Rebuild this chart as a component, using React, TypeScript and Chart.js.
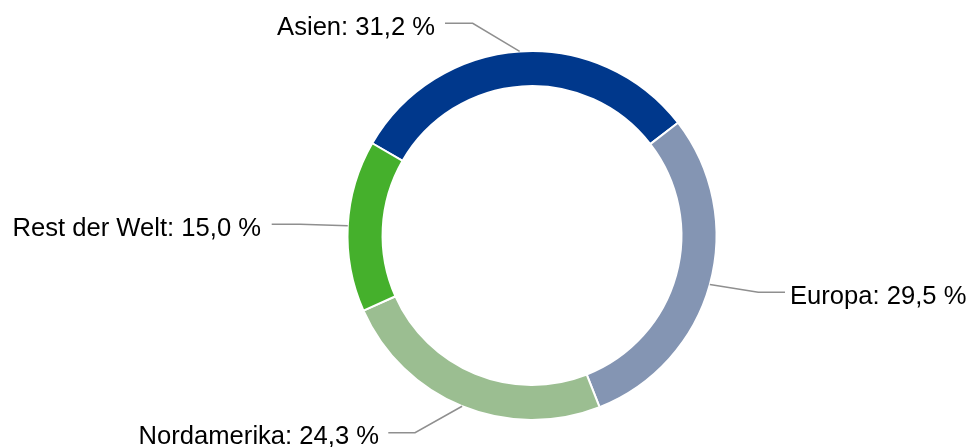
import React, { useEffect, useRef } from "react";
import { Chart, registerables } from "chart.js";

Chart.register(...registerables);

const categories = ["Asien", "Europa", "Nordamerika", "Rest der Welt"];
const shares = [31.2, 29.5, 24.3, 15.0];
const valueLabels = ["31,2 %", "29,5 %", "24,3 %", "15,0 %"];
const colors = ["#00388c", "#8495b3", "#9bbe91", "#45b02c"];

// label layout relative to the chart centre: elbow (ex, ey), line end (lx), text x and baseline
const labelLayout = [
  { ex: -59.3, ey: -212.2, lx: -87, tx: -97, align: "right", base: -200.5 },
  { ex: 226.3, ey: 56.8, lx: 253, tx: 258, align: "left", base: 68.5 },
  { ex: -117, ey: 197.2, lx: -143.7, tx: -153, align: "right", base: 208.5 },
  { ex: -232, ey: -11.2, lx: -260.3, tx: -271, align: "right", base: 0.5 },
];

const labelPlugin = {
  id: "leaderLabels",
  afterDatasetsDraw(chart: any) {
    const ctx = chart.ctx;
    const meta = chart.getDatasetMeta(0);
    ctx.save();
    meta.data.forEach((arc: any, i: number) => {
      const { x, y, startAngle, endAngle, outerRadius } = arc.getProps(
        ["x", "y", "startAngle", "endAngle", "outerRadius"],
        true
      );
      const mid = (startAngle + endAngle) / 2;
      const sx = x + Math.cos(mid) * outerRadius;
      const sy = y + Math.sin(mid) * outerRadius;
      const L = labelLayout[i];
      ctx.beginPath();
      ctx.strokeStyle = "#8f8f8f";
      ctx.lineWidth = 1.5;
      ctx.moveTo(sx, sy);
      ctx.lineTo(x + L.ex, y + L.ey);
      ctx.lineTo(x + L.lx, y + L.ey);
      ctx.stroke();
      ctx.fillStyle = "#000000";
      ctx.font = "25.6px 'Liberation Sans', Arial, sans-serif";
      ctx.textAlign = L.align;
      ctx.textBaseline = "alphabetic";
      ctx.fillText(`${categories[i]}: ${valueLabels[i]}`, x + L.tx, y + L.base);
    });
    ctx.restore();
  },
};

export default function App() {
  const ref = useRef<HTMLCanvasElement>(null);
  useEffect(() => {
    if (!ref.current) return;
    const chart = new Chart(ref.current, {
      type: "doughnut",
      data: {
        labels: categories,
        datasets: [
          {
            data: shares,
            backgroundColor: colors,
            borderColor: "#ffffff",
            borderWidth: 2,
          },
        ],
      },
      options: {
        responsive: false,
        animation: false,
        rotation: -60,
        radius: 184.5,
        cutout: "81%",
        layout: { padding: { left: 91, right: 0, top: 24, bottom: 0 } },
        plugins: {
          legend: { display: false },
          tooltip: { enabled: false },
        },
      },
      plugins: [labelPlugin],
    });
    return () => chart.destroy();
  }, []);
  return (
    <div style={{ position: "absolute", left: 0, top: 0, width: 973, height: 447, background: "#fff" }}>
      <canvas ref={ref} width={973} height={447} />
    </div>
  );
}
